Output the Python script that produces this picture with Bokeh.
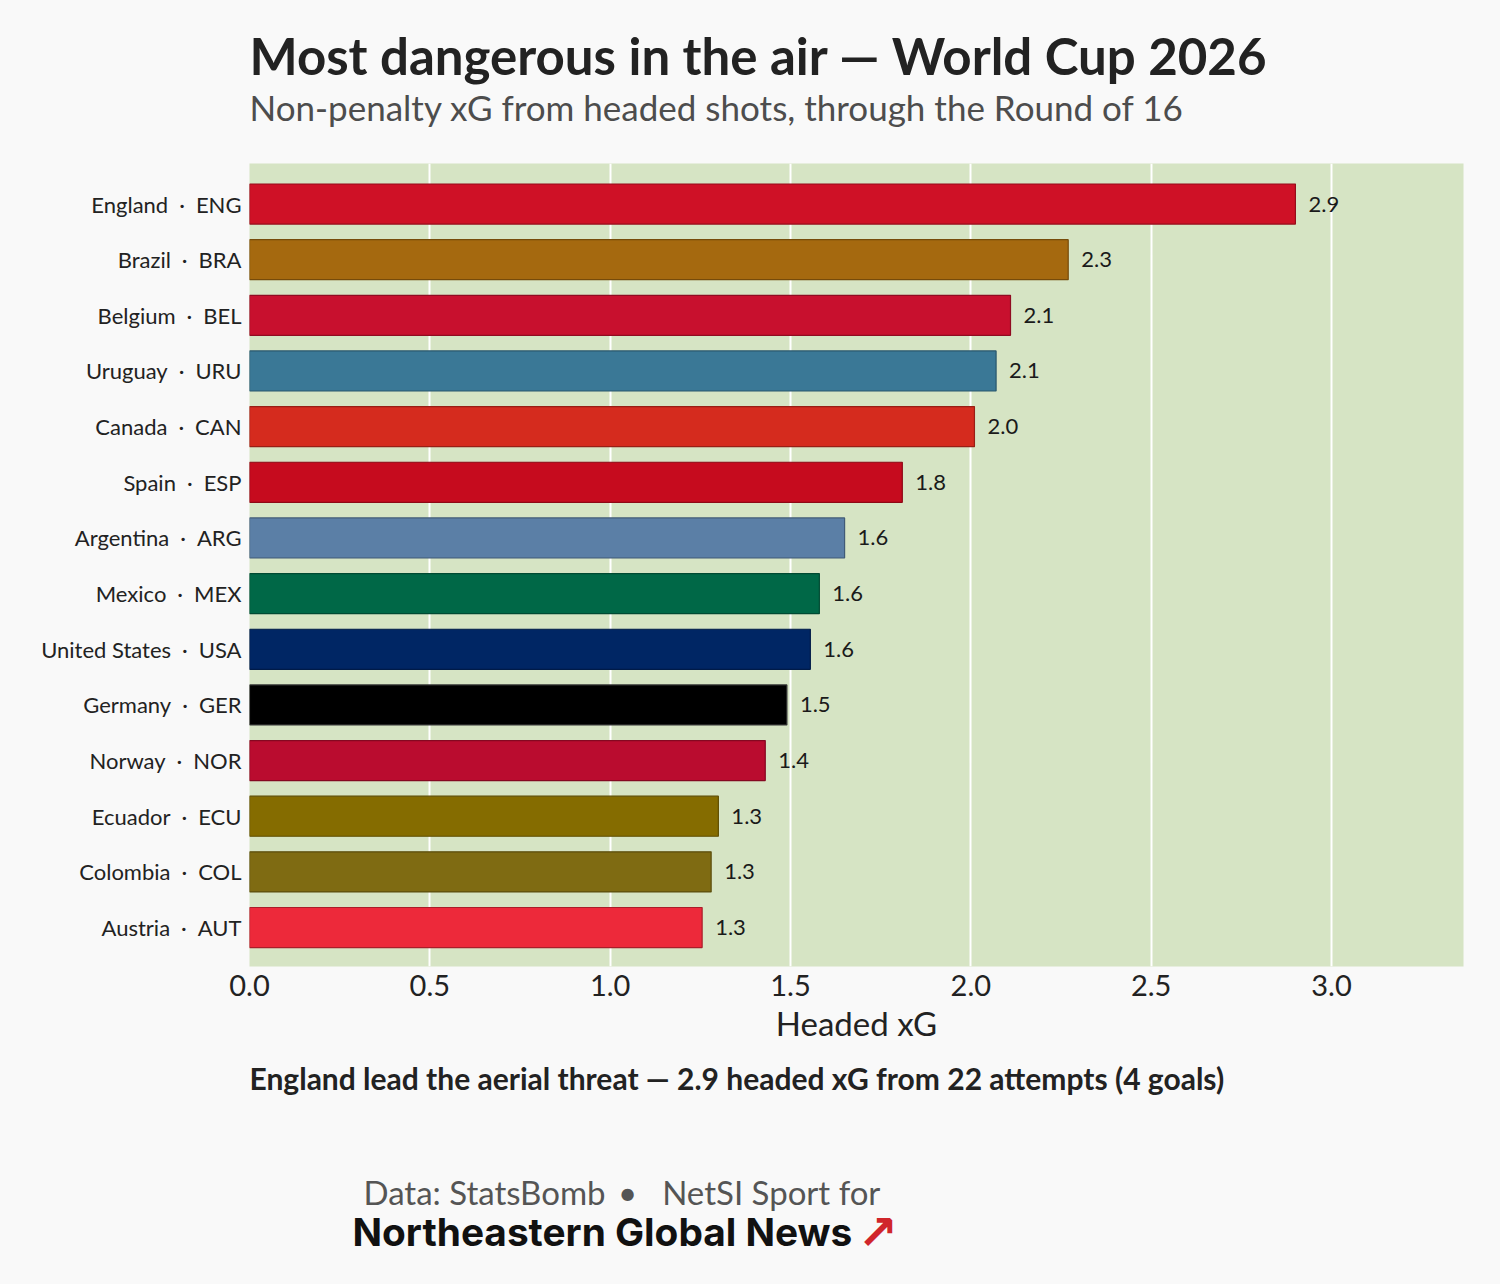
from bokeh.plotting import figure
from bokeh.layouts import column
from bokeh.models import Range1d, FixedTicker, PrintfTickFormatter, Label, ColumnDataSource
from bokeh.core.properties import value
from bokeh.embed import file_html
from bokeh.resources import INLINE

# ---- data ----
countries = ["England", "Brazil", "Belgium", "Uruguay", "Canada", "Spain", "Argentina",
             "Mexico", "United States", "Germany", "Norway", "Ecuador", "Colombia", "Austria"]
codes = ["ENG", "BRA", "BEL", "URU", "CAN", "ESP", "ARG", "MEX", "USA", "GER", "NOR", "ECU", "COL", "AUT"]
headed_xg = [2.90, 2.27, 2.11, 2.07, 2.01, 1.81, 1.65, 1.58, 1.555, 1.49, 1.43, 1.30, 1.28, 1.255]
bar_colors = ["#cf1126", "#a5690f", "#c8102e", "#3a7896", "#d52b1e", "#c60b1e", "#5b7fa6",
              "#006847", "#002664", "#000000", "#ba0c2f", "#856c00", "#7f6b12", "#ed293a"]
x_ticks = [0.0, 0.5, 1.0, 1.5, 2.0, 2.5, 3.0]

TITLE = "Most dangerous in the air \u2014 World Cup 2026"
SUBTITLE = "Non-penalty xG from headed shots, through the Round of 16"
NOTE = "England lead the aerial threat \u2014 2.9 headed xG from 22 attempts (4 goals)"
CREDIT = "Data: StatsBomb \u2009\u2022\u2002 NetSI Sport for"
BRAND = "Northeastern Global News"

# ---- layout ----
W, H = 1500, 1284
BG = "#f9f9f9"
L, R = 249, 37
HEAD_H = 163          # header strip above the plot frame
FRAME_H = 803
AX_H = 94             # x-axis area below the frame
FOOT_H = H - HEAD_H - FRAME_H - AX_H
XMAX = 3.366
YMIN, YMAX = -0.70, 13.728


def darker(hx, f=0.72):
    hx = hx.lstrip("#")
    r, g, b = (int(hx[i:i + 2], 16) for i in (0, 2, 4))
    return "#%02x%02x%02x" % (int(r * f), int(g * f), int(b * f))


def strip(height):
    # frame is aligned with the main chart's frame (x from L to W-R); data units = pixels
    s = figure(width=W, height=height, x_range=Range1d(L, W - R), y_range=Range1d(height, 0),
               output_backend="svg", toolbar_location=None, title=None,
               x_axis_location=None, y_axis_location=None,
               min_border=0, min_border_left=L, min_border_right=R,
               background_fill_color=BG, border_fill_color=BG,
               outline_line_color=None)
    s.grid.visible = False
    return s


def lab(fig, text, px, baseline, size, color, style="normal", font="Lato", k=0.39):
    fig.add_layout(Label(x=px, y=baseline - k * size, text=text, text_font=font,
                         text_font_size=f"{size}px", text_color=color, text_font_style=style,
                         text_baseline="middle", text_align="left"))


# ---- header ----
head = strip(HEAD_H)
lab(head, TITLE, 249, 75, 51, "#222222", "bold")
lab(head, SUBTITLE, 249, 120, 35, "#4d4d4d")

# ---- main chart ----
n = len(countries)
ypos = [n - 1 - i for i in range(n)]
src = ColumnDataSource(dict(
    y=ypos,
    x=headed_xg,
    color=bar_colors,
    line=[darker(c) if c != "#000000" else "#333333" for c in bar_colors],
    lbl=[f"{v:.1f}" for v in headed_xg],
))

p = figure(width=W, height=FRAME_H + AX_H, x_range=Range1d(0, XMAX), y_range=Range1d(YMIN, YMAX),
           output_backend="svg", toolbar_location=None, title=None,
           min_border_left=L, min_border_right=R, min_border_top=0, min_border_bottom=AX_H,
           background_fill_color="#d6e4c4", border_fill_color=BG,
           outline_line_color=None)

p.hbar(y="y", left=0, right="x", height=0.72, fill_color="color", line_color="line",
       line_width=1.2, source=src)
p.text(x="x", y="y", text="lbl", x_offset=13, text_baseline="middle", text_align="left",
       text_font=value("Lato"), text_font_size="22px", text_color="#1a1a1a", source=src)

p.xaxis.ticker = FixedTicker(ticks=x_ticks)
p.xaxis.formatter = PrintfTickFormatter(format="%.1f")
p.xaxis.axis_label = "Headed xG"
p.xaxis.axis_label_text_font = "Lato"
p.xaxis.axis_label_text_font_size = "33px"
p.xaxis.axis_label_text_font_style = "normal"
p.xaxis.axis_label_text_color = "#222222"
p.xaxis.axis_label_standoff = 4
p.xaxis.major_label_text_font = "Lato"
p.xaxis.major_label_text_font_size = "29px"
p.xaxis.major_label_text_color = "#222222"
p.xaxis.major_label_standoff = 8

p.yaxis.ticker = FixedTicker(ticks=ypos)
p.yaxis.major_label_overrides = {yy: f"{c}\u2002\u00b7\u2002{k}" for yy, c, k in zip(ypos, countries, codes)}
p.yaxis.major_label_text_font = "Lato"
p.yaxis.major_label_text_font_size = "22px"
p.yaxis.major_label_text_color = "#222222"
p.yaxis.major_label_standoff = 8

for ax in (p.xaxis, p.yaxis):
    ax.axis_line_color = None
    ax.major_tick_line_color = None
    ax.minor_tick_line_color = None
    ax.major_tick_out = 0
    ax.major_tick_in = 0
    ax.minor_tick_out = 0

p.ygrid.grid_line_color = None
p.xgrid.ticker = FixedTicker(ticks=x_ticks[1:])
p.xgrid.grid_line_color = "white"
p.xgrid.grid_line_width = 2

# ---- footer ----
foot = strip(FOOT_H)
y0 = HEAD_H + FRAME_H + AX_H
lab(foot, NOTE, 249, 1089 - y0, 30, "#222222", "bold")
lab(foot, CREDIT, 363, 1204 - y0, 33, "#555555")
lab(foot, BRAND, 352, 1246 - y0, 38.8, "#111111", "bold", font="Inter")
lab(foot, "\u2197", 857, 1231 - y0, 48, "#d0262b", "bold", font="DejaVu Sans", k=0.0)

page = column(head, p, foot, spacing=0, styles={"background-color": BG})
open("out.html", "w").write(file_html(page, INLINE))
